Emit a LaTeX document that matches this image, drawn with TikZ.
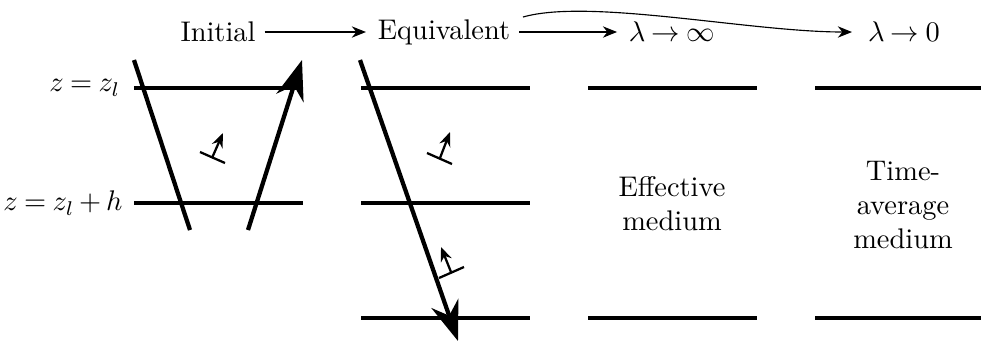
\documentclass[tikz,border=0pt]{standalone}
\usetikzlibrary{arrows.meta}
\begin{document}
\begin{tikzpicture}[x=0.352pt,y=-0.352pt,
  layer/.style={line width=1.5pt},
  ray/.style={line width=1.5pt},
  flow/.style={line width=0.4pt,-{Stealth[length=5pt,width=4pt]}},
  markbase/.style={line width=0.8pt},
  markarrow/.style={line width=0.8pt,-{Stealth[length=5pt,width=4pt]}},
  lbl/.style={inner sep=0pt,font=\normalsize},
  txt/.style={align=center,inner sep=0pt,font=\normalsize}]
\thickmuskip=4mu
\medmuskip=3mu
\useasboundingbox (0,0) rectangle (981,342);
% top labels
\node[lbl] (ini) at (218,32) {Initial};
\node[lbl] (eqv) at (444,32) {Equivalent};
\node[lbl] (linf) at (672,32) {$\lambda\to\infty$};
\node[lbl] (lzero) at (904,32) {$\lambda\to0$};
\draw[flow] ([xshift=3pt]ini.east) -- ([xshift=-4pt]eqv.west);
\draw[flow] ([xshift=3pt]eqv.east) -- ([xshift=-4pt]linf.west);
\coordinate (cs) at (523,17);
\coordinate (ce) at (852,32);
\draw[flow] (cs) .. controls (590,-2) and (750,32) .. (ce);
% z labels
\node[lbl,anchor=east] (z1) at (121,88) {$z=z_l$};
\node[lbl,anchor=east] (z2) at (123,203) {$z=z_l+h$};
% panel 1
\draw[layer] (134,88) -- (303,88);
\draw[layer] (134,203) -- (303,203);
\coordinate (r1s) at (134,60);
\coordinate (r1e) at (190,230);
\draw[ray] (r1s) -- (r1e);
\coordinate (r2s) at (248,230);
\coordinate (r2e) at (302,60);
\draw[ray,-{Stealth[length=14pt,width=10pt]}] (r2s) -- (r2e);
\draw[markbase] (200,152) -- (225,163);
\draw[markarrow] (212,158) -- (223,133);
% panel 2
\foreach \y in {88,203,318} \draw[layer] (361,\y) -- (530,\y);
\coordinate (r3s) at (360,60);
\coordinate (r3e) at (458,341);
\draw[ray,-{Stealth[length=14pt,width=10pt]}] (r3s) -- (r3e);
\draw[markbase] (427,153) -- (452,164);
\draw[markarrow] (440,158) -- (450,132);
\draw[markbase] (439,278) -- (464,267);
\draw[markarrow] (451,272) -- (441,247);
% panel 3
\foreach \y in {88,318} \draw[layer] (588,\y) -- (757,\y);
\node[txt] (eff) at (672,204) {Effective\\medium};
% panel 4
\foreach \y in {88,318} \draw[layer] (815,\y) -- (981,\y);
\node[txt] (tav) at (903,205) {Time-\\average\\medium};
\end{tikzpicture}
\end{document}
